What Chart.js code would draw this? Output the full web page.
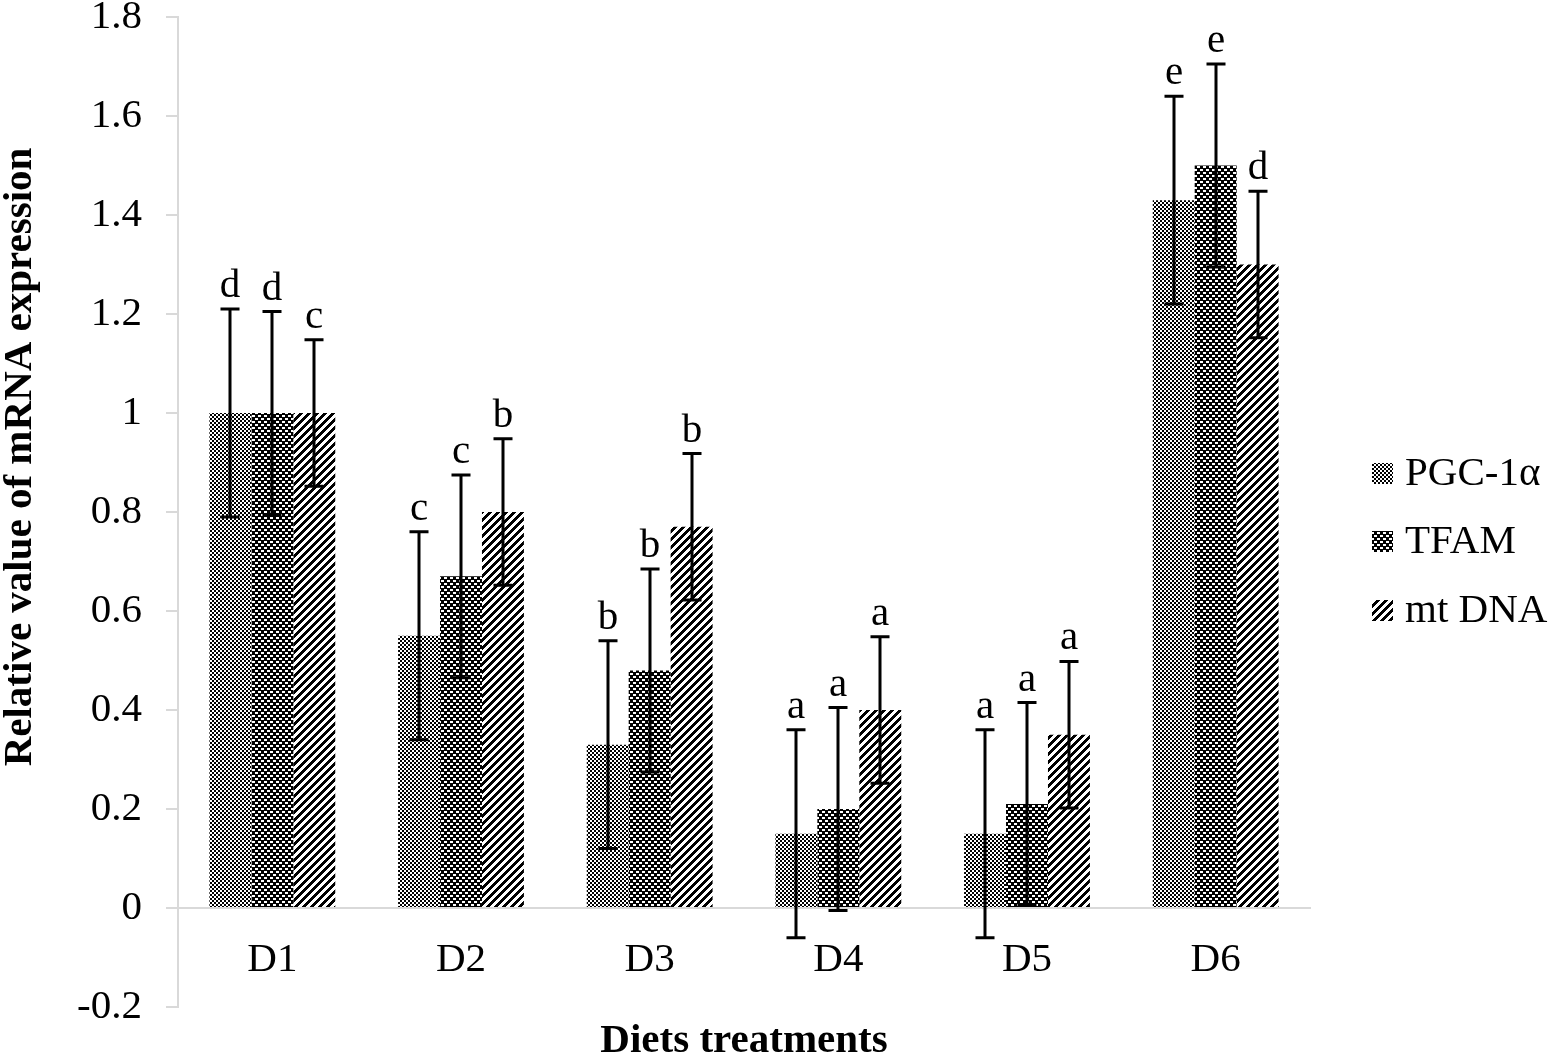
<!DOCTYPE html>
<html>
<head>
<meta charset="utf-8">
<script src="https://cdn.jsdelivr.net/npm/chart.js@4.4.1/dist/chart.umd.min.js"></script>
<style>
  html, body { margin: 0; padding: 0; background: #ffffff; }
  #wrap { width: 1550px; height: 1057px; position: relative; }
</style>
</head>
<body>
<div id="wrap"><canvas id="c" width="1550" height="1057"></canvas></div>
<script>
// ---- data ----
const categories = ['D1', 'D2', 'D3', 'D4', 'D5', 'D6'];
const seriesNames = ['PGC-1\u03b1', 'TFAM', 'mt DNA'];
const pgcValues   = [1.00, 0.55, 0.33, 0.15, 0.15, 1.43];
const tfamValues  = [1.00, 0.67, 0.48, 0.20, 0.21, 1.50];
const mtdnaValues = [1.00, 0.80, 0.77, 0.40, 0.35, 1.30];
const pgcErrors   = [0.21, 0.21, 0.21, 0.21, 0.21, 0.21];
const tfamErrors  = [0.205, 0.205, 0.205, 0.205, 0.205, 0.205];
const mtdnaErrors = [0.148, 0.148, 0.148, 0.148, 0.148, 0.148];
const pgcLetters   = ['d', 'c', 'b', 'a', 'a', 'e'];
const tfamLetters  = ['d', 'c', 'b', 'a', 'a', 'e'];
const mtdnaLetters = ['c', 'b', 'b', 'a', 'a', 'd'];
const yTickValues = [-0.2, 0, 0.2, 0.4, 0.6, 0.8, 1, 1.2, 1.4, 1.6, 1.8];
const yAxisTitle = 'Relative value of mRNA expression';
const xAxisTitle = 'Diets treatments';

const FONT = "'Liberation Serif', 'Times New Roman', serif";
const AXIS_GRAY = '#d9d9d9';

// ---- fill patterns ----
function makePattern(size, isBlack) {
  const c = document.createElement('canvas');
  c.width = size; c.height = size;
  const g = c.getContext('2d');
  const img = g.createImageData(size, size);
  for (let y = 0; y < size; y++) {
    for (let x = 0; x < size; x++) {
      const k = (y * size + x) * 4;
      const v = isBlack(x, y) ? 0 : 255;
      img.data[k] = v; img.data[k + 1] = v; img.data[k + 2] = v; img.data[k + 3] = 255;
    }
  }
  g.putImageData(img, 0, 0);
  return document.getElementById('c').getContext('2d').createPattern(c, 'repeat');
}
const pgcPattern = makePattern(4, (x, y) => ((Math.floor(x / 2) + Math.floor(y / 2)) % 2) === 0);
const tfamPattern = makePattern(6, (x, y) => {
  const white = (x < 3 && (y === 1 || y === 2)) || (x >= 3 && (y === 4 || y === 5));
  return !white;
});
const mtPattern = makePattern(8, (x, y) => ((x + y) % 8) < 4);
const patterns = [pgcPattern, tfamPattern, mtPattern];

const allValues = [pgcValues, tfamValues, mtdnaValues];
const allErrors = [pgcErrors, tfamErrors, mtdnaErrors];
const allLetters = [pgcLetters, tfamLetters, mtdnaLetters];

// ---- plugin: error bars, letters, titles, legend ----
const decorPlugin = {
  id: 'decor',
  afterDatasetsDraw(chart) {
    const ctx = chart.ctx;
    const yScale = chart.scales.y;
    ctx.save();
    chart.data.datasets.forEach((ds, i) => {
      const meta = chart.getDatasetMeta(i);
      meta.data.forEach((bar, j) => {
        const v = allValues[i][j];
        const e = allErrors[i][j];
        const x = Math.round(bar.x);
        const yTop = yScale.getPixelForValue(v + e);
        const yBot = yScale.getPixelForValue(v - e);
        ctx.strokeStyle = '#000';
        ctx.lineWidth = 3;
        ctx.beginPath();
        ctx.moveTo(x, yTop); ctx.lineTo(x, yBot);
        ctx.moveTo(x - 9.5, yTop); ctx.lineTo(x + 9.5, yTop);
        ctx.moveTo(x - 9.5, yBot); ctx.lineTo(x + 9.5, yBot);
        ctx.stroke();
        ctx.fillStyle = '#000';
        ctx.font = '41px ' + FONT;
        ctx.textAlign = 'center';
        ctx.textBaseline = 'alphabetic';
        ctx.fillText(allLetters[i][j], x, yTop - 12);
      });
    });
    ctx.restore();
  },
  afterDraw(chart) {
    const ctx = chart.ctx;
    const area = chart.chartArea;
    ctx.save();
    ctx.fillStyle = '#000';
    // x axis title
    ctx.font = 'bold 41px ' + FONT;
    ctx.textAlign = 'center';
    ctx.textBaseline = 'alphabetic';
    ctx.fillText(xAxisTitle, (area.left + area.right) / 2, 1052);
    // y axis title
    ctx.save();
    ctx.translate(20, 457);
    ctx.rotate(-Math.PI / 2);
    ctx.textBaseline = 'middle';
    ctx.fillText(yAxisTitle, 0, 0);
    ctx.restore();
    // legend
    const legendY = [473, 541, 610];
    ctx.font = '41px ' + FONT;
    ctx.textAlign = 'left';
    ctx.textBaseline = 'middle';
    seriesNames.forEach((name, i) => {
      ctx.fillStyle = patterns[i];
      ctx.fillRect(1372, legendY[i] - 10, 21, 21);
      ctx.fillStyle = '#000';
      ctx.fillText(name, 1405, legendY[i] + 1);
    });
    ctx.restore();
  }
};

new Chart(document.getElementById('c'), {
  type: 'bar',
  data: {
    labels: categories,
    datasets: seriesNames.map((name, i) => ({
      label: name,
      data: allValues[i],
      backgroundColor: patterns[i],
      borderWidth: 0,
      categoryPercentage: 0.667,
      barPercentage: 1.0
    }))
  },
  options: {
    responsive: false,
    animation: false,
    devicePixelRatio: 1,
    layout: { padding: { top: 17, bottom: 50, left: 0, right: 240 } },
    plugins: {
      legend: { display: false },
      tooltip: { enabled: false }
    },
    scales: {
      x: {
        position: { y: 0 },
        grid: { display: false, drawTicks: false },
        border: { display: true, color: AXIS_GRAY, width: 2 },
        ticks: {
          color: '#000',
          font: { family: FONT, size: 41 },
          padding: 28,
          maxRotation: 0
        }
      },
      y: {
        min: -0.2,
        max: 1.8,
        afterBuildTicks(scale) {
          scale.ticks = yTickValues.map(v => ({ value: v }));
        },
        afterFit(scale) {
          scale.width = 178;
          scale.paddingTop = 0;
          scale.paddingBottom = 0;
        },
        grid: {
          display: true,
          drawOnChartArea: false,
          drawTicks: true,
          tickLength: 12,
          color: AXIS_GRAY,
          lineWidth: 2
        },
        border: { display: true, color: AXIS_GRAY, width: 2 },
        ticks: {
          color: '#000',
          font: { family: FONT, size: 41 },
          padding: 24,
          callback: (v) => String(Number(Number(v).toFixed(1)))
        }
      }
    }
  },
  plugins: [decorPlugin]
});
</script>
</body>
</html>
